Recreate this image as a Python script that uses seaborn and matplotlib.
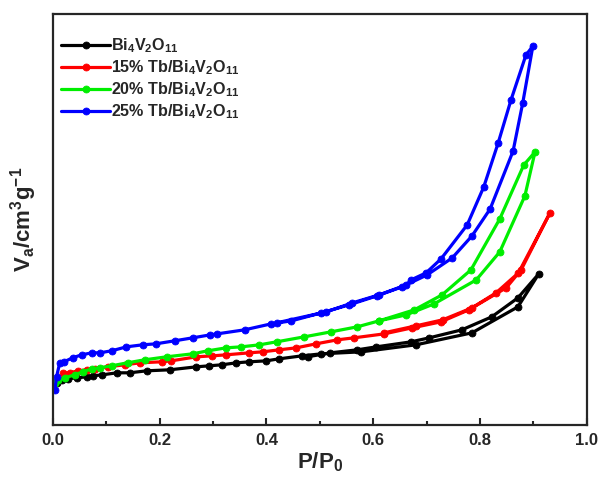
import numpy as np
import pandas as pd
import matplotlib
matplotlib.use("Agg")
import matplotlib.pyplot as plt
import seaborn as sns

# N2 adsorption-desorption isotherms (arbitrary volume units)

samples = ["Bi$_4$V$_2$O$_{11}$",
           "15% Tb/Bi$_4$V$_2$O$_{11}$",
           "20% Tb/Bi$_4$V$_2$O$_{11}$",
           "25% Tb/Bi$_4$V$_2$O$_{11}$"]
colors = ["#000000", "#ff0000", "#00ee00", "#0000ff"]

# Bi4V2O11
p_ads_0 = [0.007, 0.017, 0.028, 0.045, 0.064, 0.075, 0.093, 0.120, 0.144, 0.176, 0.219, 0.269,
           0.293, 0.316, 0.344, 0.368, 0.400, 0.424, 0.467, 0.503, 0.578, 0.680, 0.785, 0.871, 0.910]
v_ads_0 = [42, 45, 46, 47, 48, 49, 50, 52, 52, 54, 55, 58,
           59, 60, 62, 63, 64, 66, 69, 71, 73, 80, 92, 118, 151]
p_des_0 = [0.871, 0.822, 0.766, 0.705, 0.671, 0.606, 0.570, 0.520, 0.477]
v_des_0 = [127, 108, 95, 87, 83, 78, 75, 72, 68]

# 15% Tb
p_ads_1 = [0.019, 0.032, 0.047, 0.064, 0.079, 0.103, 0.135, 0.163, 0.204, 0.222, 0.269, 0.299,
           0.325, 0.368, 0.393, 0.424, 0.456, 0.493, 0.533, 0.564, 0.621, 0.673, 0.727, 0.779,
           0.849, 0.877, 0.931]
v_ads_1 = [52, 52, 54, 55, 56, 58, 60, 62, 63, 64, 68, 69,
           70, 72, 73, 75, 77, 81, 85, 87, 91, 97, 103, 115,
           137, 155, 212]
p_des_1 = [0.872, 0.830, 0.785, 0.730, 0.680, 0.620]
v_des_1 = [152, 132, 117, 105, 99, 92]

# 20% Tb
p_ads_2 = [0.004, 0.009, 0.022, 0.041, 0.056, 0.073, 0.088, 0.110, 0.140, 0.172, 0.213, 0.262,
           0.290, 0.325, 0.353, 0.387, 0.419, 0.471, 0.521, 0.570, 0.611, 0.662, 0.714, 0.793,
           0.837, 0.884, 0.903]
v_ads_2 = [42, 45, 47, 50, 53, 56, 57, 59, 62, 65, 68, 71,
           74, 77, 78, 80, 83, 88, 93, 98, 104, 110, 121, 145,
           173, 229, 273]
p_des_2 = [0.882, 0.837, 0.783, 0.729, 0.677, 0.611]
v_des_2 = [260, 206, 155, 130, 115, 104]

# 25% Tb
p_ads_3 = [0.004, 0.007, 0.013, 0.021, 0.037, 0.054, 0.073, 0.088, 0.110, 0.138, 0.168, 0.193,
           0.228, 0.262, 0.295, 0.308, 0.359, 0.409, 0.447, 0.503, 0.555, 0.607, 0.654, 0.701,
           0.748, 0.785, 0.819, 0.862, 0.880, 0.899]
v_ads_3 = [35, 48, 62, 63, 67, 70, 72, 72, 74, 78, 80, 81,
           84, 87, 90, 91, 95, 101, 104, 112, 120, 129, 138, 150,
           167, 189, 216, 274, 322, 379]
p_des_3 = [0.886, 0.858, 0.834, 0.807, 0.776, 0.727, 0.699, 0.671, 0.662, 0.611, 0.561, 0.512, 0.419]
v_des_3 = [370, 325, 282, 238, 200, 166, 152, 145, 140, 130, 122, 113, 102]

p_ads = [p_ads_0, p_ads_1, p_ads_2, p_ads_3]
v_ads = [v_ads_0, v_ads_1, v_ads_2, v_ads_3]
p_des = [p_des_0, p_des_1, p_des_2, p_des_3]
v_des = [v_des_0, v_des_1, v_des_2, v_des_3]

sns.set_style("ticks")
plt.rcParams["font.family"] = ["Liberation Sans", "DejaVu Sans"]
plt.rcParams["font.weight"] = "bold"
plt.rcParams["mathtext.fontset"] = "custom"
plt.rcParams["mathtext.rm"] = "Liberation Sans:bold"
plt.rcParams["mathtext.bf"] = "Liberation Sans:bold"
plt.rcParams["mathtext.default"] = "bf"
plt.rcParams["xtick.direction"] = "in"

fig = plt.figure(figsize=(6, 4.86), dpi=100)
ax = fig.add_axes([0.088, 0.126, 0.89, 0.845])

for i, name in enumerate(samples):
    df = pd.DataFrame({"P": p_ads[i] + p_des[i], "V": v_ads[i] + v_des[i]})
    sns.lineplot(data=df, x="P", y="V", sort=False, estimator=None, ax=ax,
                 color=colors[i], linewidth=2.3, marker="o", markersize=5,
                 markeredgecolor=colors[i], markeredgewidth=0.6, label=name)

ax.set_xlim(0, 1.0)
ax.set_ylim(0, 411)
ax.set_xticks(np.arange(0, 1.01, 0.2))
ax.set_xticks(np.arange(0.1, 1.0, 0.2), minor=True)
ax.set_yticks([])
ax.tick_params(axis="x", which="major", length=5, width=1.5, labelsize=12, pad=6)
ax.tick_params(axis="x", which="minor", length=3, width=1.5)
for lab in ax.get_xticklabels():
    lab.set_fontweight("bold")
for s in ax.spines.values():
    s.set_linewidth(1.6)

ax.set_xlabel("P/P$_0$", fontsize=16, fontweight="bold", labelpad=2)
ax.set_ylabel("V$_a$/cm$^3$g$^{-1}$", fontsize=16, fontweight="bold", labelpad=10)

leg = ax.legend(loc="upper left", frameon=False, handlelength=3.0,
                handletextpad=0.1, labelspacing=0.2, borderaxespad=0.6,
                bbox_to_anchor=(-0.014, 0.984),
                prop={"weight": "bold", "size": 11.6})

plt.savefig("out.png", dpi=100)
